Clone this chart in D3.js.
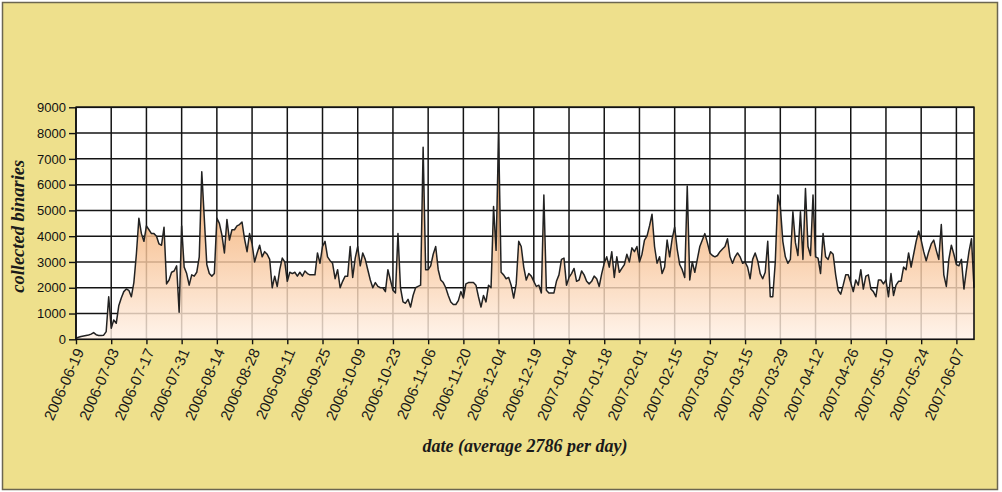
<!DOCTYPE html>
<html>
<head>
<meta charset="utf-8">
<script src="https://cdn.jsdelivr.net/npm/d3@7"></script>
<style>
html,body{margin:0;padding:0;background:#fff;}
svg{display:block;}
</style>
</head>
<body>
<svg id="chart" width="1002" height="492"></svg>
<script>
// ---- data ----
const tickLabels = ["2006-06-19","2006-07-03","2006-07-17","2006-07-31","2006-08-14","2006-08-28",
  "2006-09-11","2006-09-25","2006-10-09","2006-10-23","2006-11-06","2006-11-20","2006-12-04",
  "2006-12-19","2007-01-04","2007-01-18","2007-02-01","2007-02-15","2007-03-01","2007-03-15",
  "2007-03-29","2007-04-12","2007-04-26","2007-05-10","2007-05-24","2007-06-07"];
const tickStep = 14; // data points between labelled ticks
const yTicks = [0,1000,2000,3000,4000,5000,6000,7000,8000,9000];
const values = [
  40,80,110,130,150,170,200,260,180,150,150,160,300,1650,
  430,750,620,1300,1600,1850,1950,1900,1650,2200,3300,4700,4100,3800,
  4400,4250,4100,4100,4000,3700,3650,4350,2150,2300,2600,2650,2850,1050,
  4400,2800,2550,2100,2500,2450,2600,3200,6500,4700,2900,2550,2450,2550,
  4700,4500,4050,3350,4650,3850,4250,4250,4400,4450,4550,3900,3400,4100,
  3700,3000,3350,3650,3200,3400,3300,3100,2000,2450,2050,2700,3150,3000,
  2250,2600,2550,2600,2450,2600,2450,2650,2550,2500,2500,2500,3350,2950,
  3600,3800,3200,3050,2950,2350,2700,2000,2250,2450,2450,3600,2400,3150,
  3600,2850,3350,3100,2700,2300,2000,2200,2050,2000,2000,1850,2700,2300,
  1900,1800,4100,2000,1450,1400,1550,1250,1700,2000,2050,2100,7450,2700,
  2700,2850,3300,3600,2700,2300,2200,2000,1700,1450,1350,1350,1500,1850,
  1600,2150,2200,2200,2200,2100,1650,1250,1700,1450,2100,2000,5150,3450,
  8000,2600,2500,2350,2400,2100,1600,2150,3800,3600,2800,2300,2550,2450,
  2250,2050,2100,1800,5600,1900,1800,1800,1800,2250,2500,3100,3150,2100,
  2400,2550,2750,2250,2300,2650,2500,2250,2150,2250,2450,2350,2050,2550,
  2950,3200,2800,3400,2400,3200,2600,2750,2900,3300,3000,3550,3400,3600,
  3000,3300,3850,4000,4400,4850,3600,2950,3200,2550,2800,3850,3200,3900,
  4350,3500,2900,2700,2400,5950,2300,3000,2600,3100,3600,3850,4100,3750,
  3350,3250,3200,3250,3400,3500,3600,3900,3200,2950,3200,3350,3200,2950,
  3000,2800,2350,3100,3350,3050,2550,2350,2600,3800,1650,1650,3000,5600,
  5150,3800,3200,2950,3100,4950,3750,3250,4950,3100,5850,3600,3250,5600,
  3200,3150,2550,4100,3200,3100,3400,3300,2500,1900,1750,2100,2500,2500,
  2200,1850,2300,2100,2700,1950,2450,2500,1950,1850,1650,2300,2300,2150,
  2300,1650,2550,1700,2100,2250,2250,2800,2700,3350,2800,3300,3800,4200,
  3850,3400,3050,3400,3700,3850,3450,3100,4450,2500,2050,3100,3650,3300,
  2900,2850,3100,1950,2700,3400,3900,2000
];
const yTitle = "collected binaries";
const xTitle = "date (average 2786 per day)";

// ---- drawing ----
const svg = d3.select("#chart");
const W = 1002, H = 492;
const L = 76, R = 974, T = 107.3, B = 339.3;

svg.append("rect").attr("x",0).attr("y",0).attr("width",W).attr("height",H).attr("fill","#fff");
svg.append("rect").attr("x",2.5).attr("y",2.5).attr("width",995).attr("height",487)
  .attr("fill","#EEE08C").attr("stroke","#6b6650").attr("stroke-width",1.5);

const x = d3.scaleLinear().domain([0, values.length - 1]).range([L, R]);
const y = d3.scaleLinear().domain([0, 9000]).range([B, T]);

const defs = svg.append("defs");
const grad = defs.append("linearGradient").attr("id","fillGrad")
  .attr("gradientUnits","userSpaceOnUse").attr("x1",0).attr("x2",0)
  .attr("y1",y(9000)).attr("y2",y(0));
grad.append("stop").attr("offset","0%").attr("stop-color","#E98A3A");
grad.append("stop").attr("offset","55%").attr("stop-color","#F6BC8A");
grad.append("stop").attr("offset","100%").attr("stop-color","#FFF1E6");

// plot background
svg.append("rect").attr("x",L).attr("y",T).attr("width",R-L).attr("height",B-T).attr("fill","#fff");

const tickIdx = tickLabels.map((d,i) => i * tickStep);

// grid
const grid = svg.append("g").attr("stroke","#141414").attr("stroke-width",1.5);
grid.selectAll("line.v").data(tickIdx).join("line")
  .attr("x1",d=>x(d)).attr("x2",d=>x(d)).attr("y1",T).attr("y2",B);
grid.selectAll("line.h").data(yTicks).join("line")
  .attr("x1",L).attr("x2",R).attr("y1",d=>y(d)).attr("y2",d=>y(d));

// area
const area = d3.area().x((d,i)=>x(i)).y0(y(0)).y1(d=>y(d));
svg.append("path").datum(values).attr("d",area)
  .attr("fill","url(#fillGrad)").attr("fill-opacity",0.82);

// line
const line = d3.line().x((d,i)=>x(i)).y(d=>y(d));
svg.append("path").datum(values).attr("d",line)
  .attr("fill","none").attr("stroke","#222").attr("stroke-width",1.5)
  .attr("stroke-linejoin","round");

// frame
svg.append("rect").attr("x",L).attr("y",T).attr("width",R-L).attr("height",B-T)
  .attr("fill","none").attr("stroke","#111").attr("stroke-width",1.6);

// y axis
const yAxis = d3.axisLeft(y).tickValues(yTicks).tickSize(7).tickPadding(3).tickFormat(d3.format("d"));
const gy = svg.append("g").attr("transform",`translate(${L},0)`).call(yAxis);
gy.select(".domain").remove();
gy.selectAll("line").attr("stroke","#111").attr("stroke-width",1.4);
gy.selectAll("text").attr("font-family","'Liberation Sans', Arial, sans-serif")
  .attr("font-size",13).attr("fill","#111");

// x axis
const xAxis = d3.axisBottom(x).tickValues(tickIdx).tickSize(5).tickFormat((d,i)=>tickLabels[i]);
const gx = svg.append("g").attr("transform",`translate(0,${B})`).call(xAxis);
gx.select(".domain").remove();
gx.selectAll("line").attr("stroke","#111").attr("stroke-width",1.4);
gx.selectAll("text")
  .attr("font-family","'Liberation Sans', Arial, sans-serif")
  .attr("font-size",15).attr("fill","#1a1a1a")
  .attr("text-anchor","end")
  .attr("dy","0.35em")
  .attr("transform","translate(3,10) rotate(-66)")
  .attr("y",0).attr("x",0);

// titles
svg.append("text").attr("transform",`translate(24,${(T+B)/2+3}) rotate(-90)`)
  .attr("text-anchor","middle")
  .attr("font-family","'Liberation Serif','Times New Roman',serif")
  .attr("font-weight","bold").attr("font-style","italic")
  .attr("font-size",18.5).attr("fill","#1a1a1a").text(yTitle);

svg.append("text").attr("x",525).attr("y",452)
  .attr("text-anchor","middle")
  .attr("font-family","'Liberation Serif','Times New Roman',serif")
  .attr("font-weight","bold").attr("font-style","italic")
  .attr("font-size",18).attr("fill","#1a1a1a").text(xTitle);
</script>
</body>
</html>
